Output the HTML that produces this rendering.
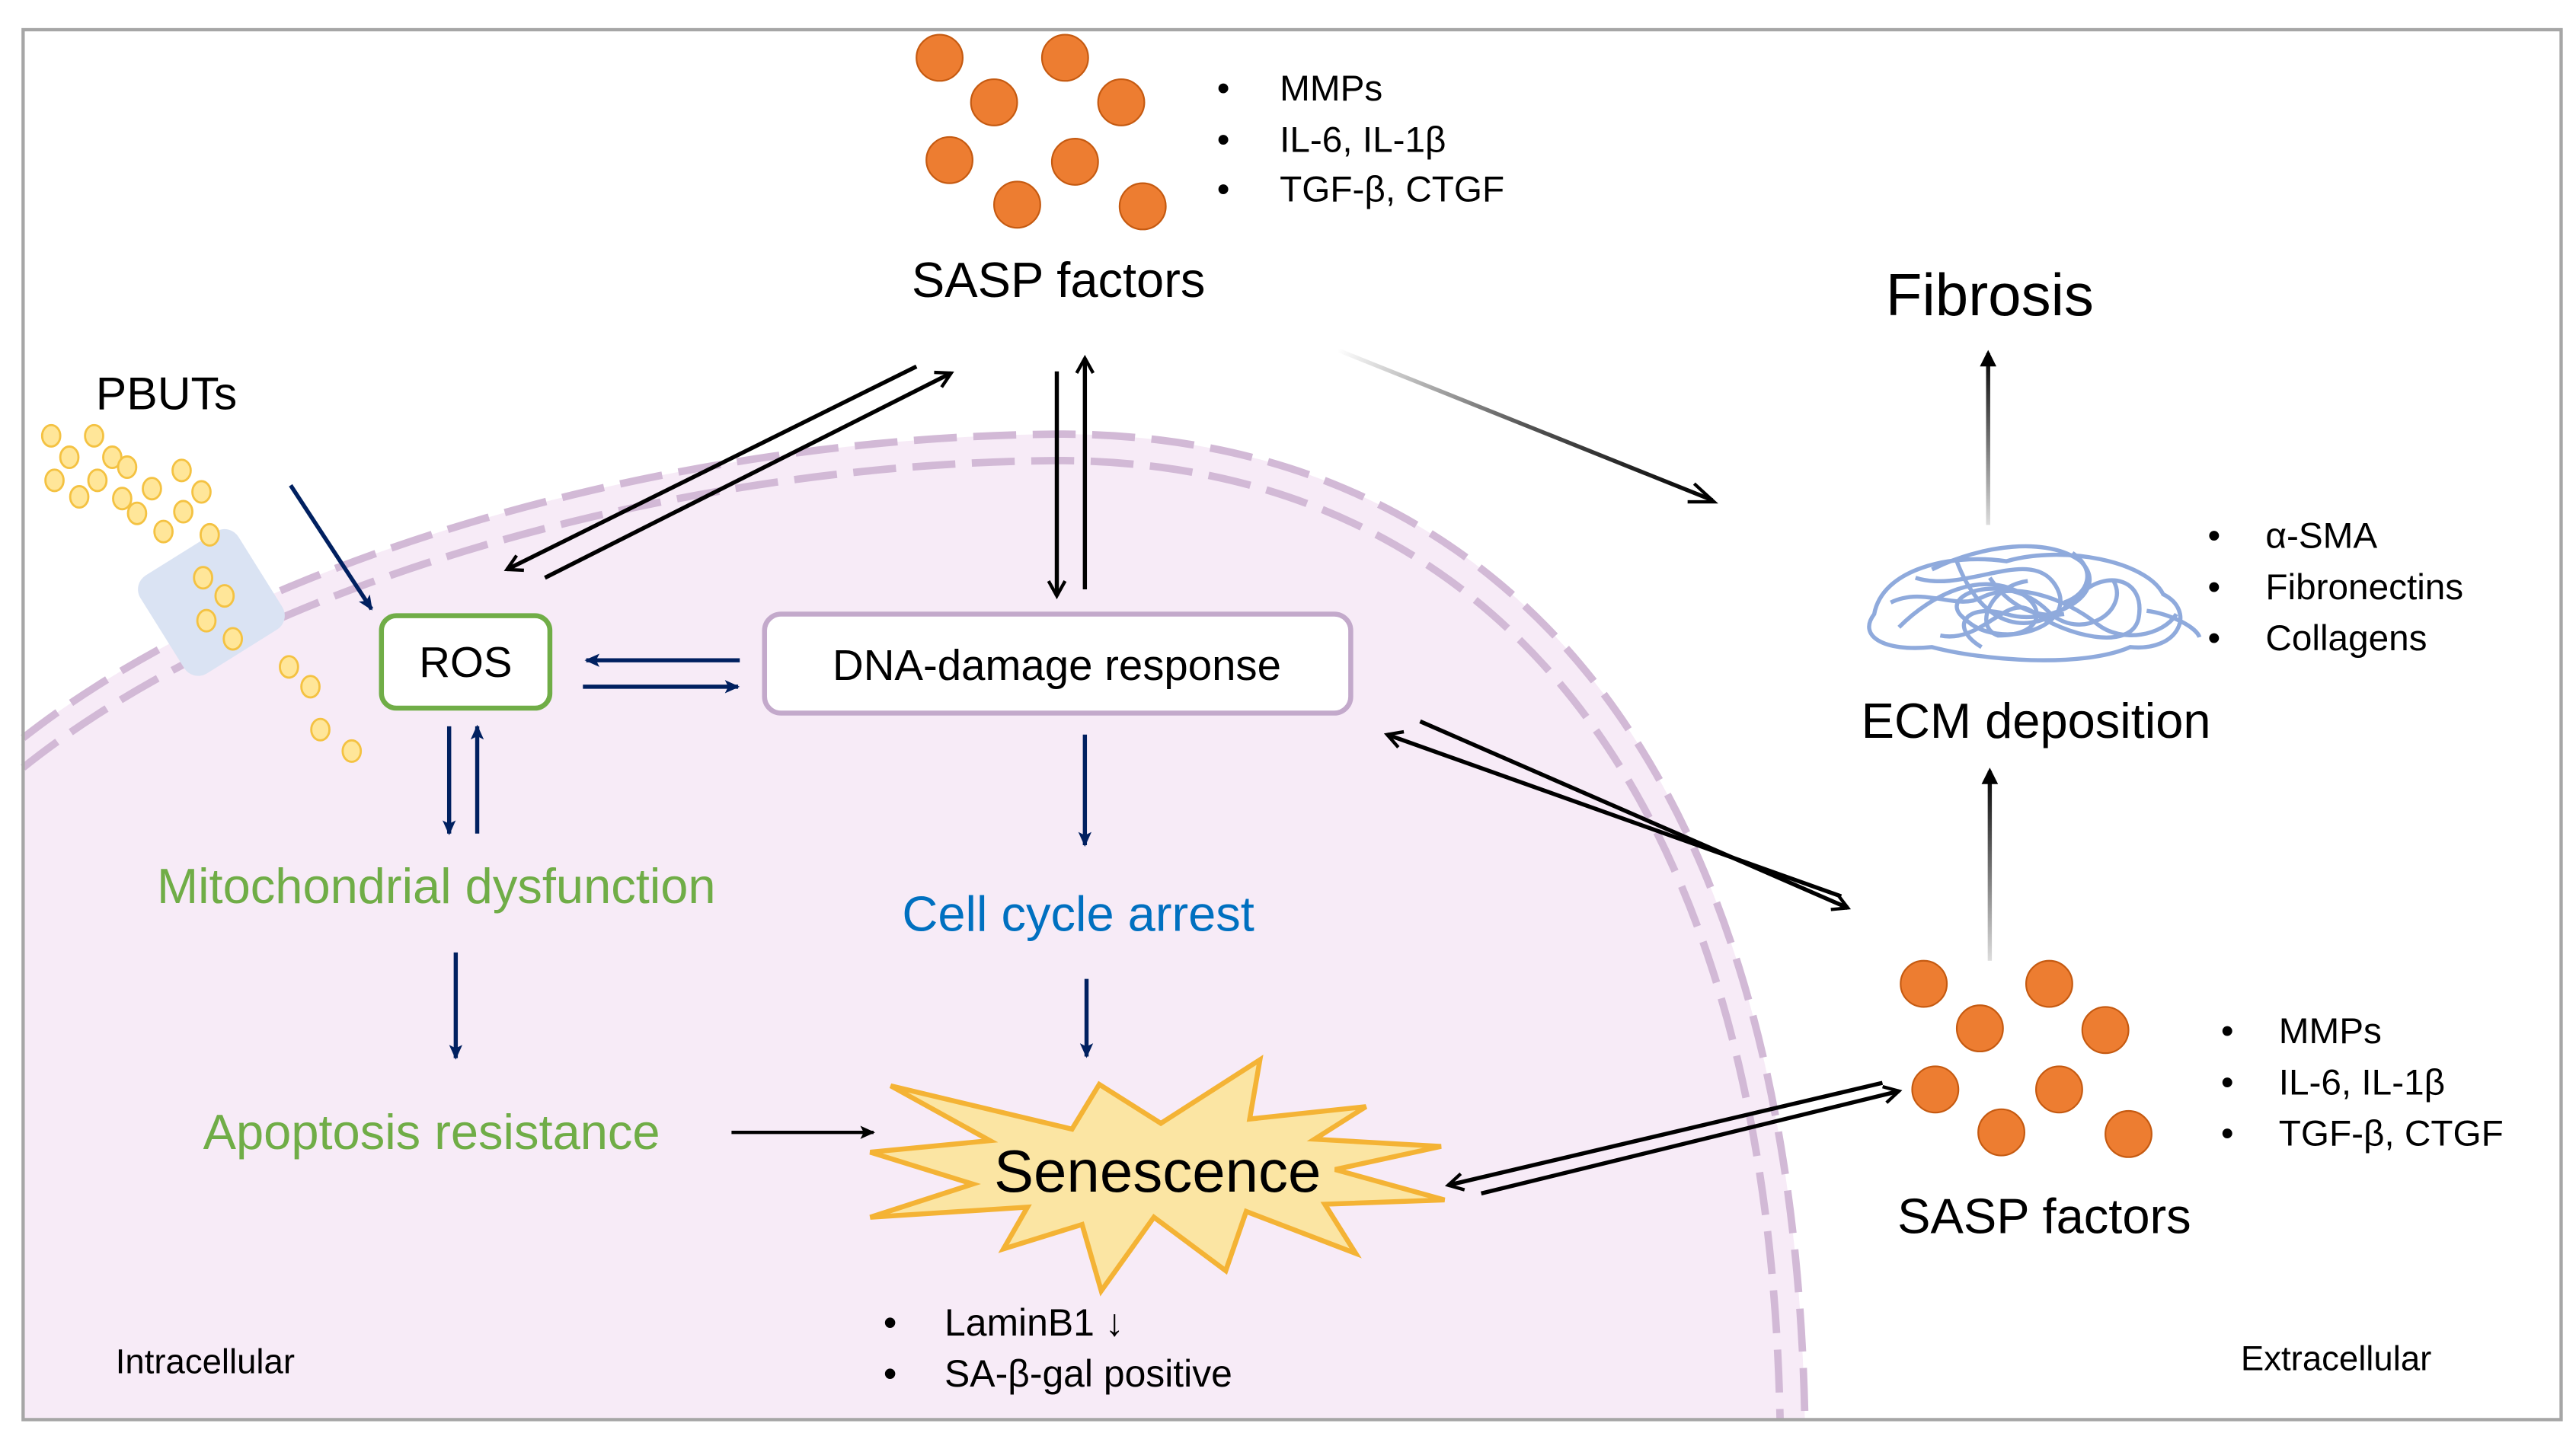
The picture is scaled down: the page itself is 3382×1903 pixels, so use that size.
<!DOCTYPE html>
<html><head><meta charset="utf-8"><style>
html,body{margin:0;padding:0;background:#fff;}
svg{display:block;}
text{font-family:"Liberation Sans",sans-serif;}
</style></head><body>
<svg width="3382" height="1903" viewBox="0 0 1560 877.8" preserveAspectRatio="none" xmlns="http://www.w3.org/2000/svg">
<defs>
<marker id="nv" markerWidth="10" markerHeight="10" refX="8" refY="5" orient="auto" markerUnits="userSpaceOnUse"><path d="M0,1 L9,5 L0,9 L2,5 Z" fill="#002060"/></marker>
<marker id="bk" markerWidth="12" markerHeight="12" refX="10" refY="6" orient="auto" markerUnits="userSpaceOnUse"><path d="M1,1 L10,6 L1,11" fill="none" stroke="#000" stroke-width="2"/></marker>
<marker id="bkf" markerWidth="10" markerHeight="10" refX="8" refY="5" orient="auto" markerUnits="userSpaceOnUse"><path d="M0,1 L9,5 L0,9 L2,5 Z" fill="#000"/></marker>
<linearGradient id="g1" x1="810" y1="212" x2="1037" y2="303" gradientUnits="userSpaceOnUse"><stop offset="0" stop-color="#fff"/><stop offset="0.5" stop-color="#555"/><stop offset="1" stop-color="#000"/></linearGradient>
<linearGradient id="g2" x1="0" y1="318" x2="0" y2="214" gradientUnits="userSpaceOnUse"><stop offset="0" stop-color="#ddd"/><stop offset="1" stop-color="#000"/></linearGradient>
<linearGradient id="g3" x1="0" y1="582" x2="0" y2="467" gradientUnits="userSpaceOnUse"><stop offset="0" stop-color="#ddd"/><stop offset="1" stop-color="#000"/></linearGradient>
</defs>
<rect x="0" y="0" width="1560" height="878" fill="#fff"/>
<path d="M14 447 C150 340,400 265,640 263 C900 262,1085 450,1093 860 L14 860 Z" fill="#f7ebf7"/>
<path d="M14 447 C150 340,400 265,640 263 C900 262,1085 450,1093 860" fill="none" stroke="#d2b9d6" stroke-width="4.5" stroke-dasharray="26,10"/>
<path d="M14 465 C150 356,400 281,640 279 C890 279,1070 462,1078 860" fill="none" stroke="#d2b9d6" stroke-width="4.5" stroke-dasharray="26,10"/>
<rect x="14" y="18" width="1537" height="842" fill="none" stroke="#a6a6a6" stroke-width="2"/>

<g fill="#ed7d31" stroke="#c55a11" stroke-width="1">
<circle cx="569" cy="35" r="14"/><circle cx="645" cy="35" r="14"/><circle cx="602" cy="62" r="14"/><circle cx="679" cy="62" r="14"/>
<circle cx="575" cy="97" r="14"/><circle cx="651" cy="98" r="14"/><circle cx="616" cy="124" r="14"/><circle cx="692" cy="125" r="14"/>
<circle cx="1165" cy="596" r="14"/><circle cx="1241" cy="596" r="14"/><circle cx="1199" cy="623" r="14"/><circle cx="1275" cy="624" r="14"/>
<circle cx="1172" cy="660" r="14"/><circle cx="1247" cy="660" r="14"/><circle cx="1212" cy="686" r="14"/><circle cx="1289" cy="687" r="14"/>
</g>
<g font-size="22" fill="#000">
<text x="737" y="61">•</text><text x="775" y="61">MMPs</text>
<text x="737" y="92">•</text><text x="775" y="92">IL-6, IL-1β</text>
<text x="737" y="122">•</text><text x="775" y="122">TGF-β, CTGF</text>
<text x="1337" y="332">•</text><text x="1372" y="332">α-SMA</text>
<text x="1337" y="363">•</text><text x="1372" y="363">Fibronectins</text>
<text x="1337" y="394">•</text><text x="1372" y="394">Collagens</text>
<text x="1345" y="632">•</text><text x="1380" y="632">MMPs</text>
<text x="1345" y="663">•</text><text x="1380" y="663">IL-6, IL-1β</text>
<text x="1345" y="694">•</text><text x="1380" y="694">TGF-β, CTGF</text>
<text x="70" y="832" font-size="21">Intracellular</text>
<text x="1357" y="830" font-size="21">Extracellular</text>
<text x="535" y="809" font-size="23">•</text><text x="572" y="809" font-size="23">LaminB1 ↓</text>
<text x="535" y="840" font-size="23">•</text><text x="572" y="840" font-size="23">SA-β-gal positive</text>
</g>
<text x="641" y="180" font-size="30" text-anchor="middle">SASP factors</text>
<text x="1205" y="191" font-size="36" text-anchor="middle">Fibrosis</text>
<text x="1233" y="447" font-size="30" text-anchor="middle">ECM deposition</text>
<text x="1238" y="747" font-size="30" text-anchor="middle">SASP factors</text>
<text x="58" y="248" font-size="28">PBUTs</text>

<g fill="none" stroke="#8faadc" stroke-width="2.5">
<path d="M1135 372 C1140 345,1180 335,1215 340 C1250 330,1300 340,1310 360 C1330 370,1320 395,1290 392 C1260 405,1200 400,1170 392 C1140 395,1125 385,1135 372 Z"/>
<path d="M1160 350 C1190 360,1230 330,1245 355 C1260 380,1210 395,1190 375 C1170 360,1215 345,1240 370 C1260 390,1290 370,1280 352"/>
<path d="M1185 340 C1200 380,1230 390,1260 360 C1275 345,1300 350,1295 375 C1290 395,1250 385,1230 370 C1215 360,1200 390,1175 385"/>
<path d="M1150 380 C1170 360,1200 345,1225 360 C1240 370,1235 385,1210 385 C1195 380,1205 355,1228 352 M1255 335 C1270 345,1265 360,1250 365"/>
<path d="M1300 370 C1315 372,1330 380,1332 386 M1205 350 C1215 365,1230 375,1250 372"/>
<path d="M1170 345 C1200 330,1240 325,1260 340 C1280 360,1240 380,1215 372 C1190 365,1180 380,1200 392"/>
<path d="M1145 365 C1165 355,1185 370,1200 362 C1220 352,1250 362,1270 378 C1285 390,1310 385,1318 372"/>
</g>

<rect x="93" y="330" width="70" height="70" rx="10" fill="#dae3f3" transform="rotate(-32 128 365)"/>
<g fill="#ffe699" stroke="#f4c242" stroke-width="1.3">
<ellipse cx="31" cy="264" rx="5.5" ry="6.5"/><ellipse cx="57" cy="264" rx="5.5" ry="6.5"/>
<ellipse cx="42" cy="277" rx="5.5" ry="6.5"/><ellipse cx="68" cy="277" rx="5.5" ry="6.5"/>
<ellipse cx="33" cy="291" rx="5.5" ry="6.5"/><ellipse cx="59" cy="291" rx="5.5" ry="6.5"/>
<ellipse cx="77" cy="283" rx="5.5" ry="6.5"/><ellipse cx="110" cy="285" rx="5.5" ry="6.5"/>
<ellipse cx="48" cy="301" rx="5.5" ry="6.5"/><ellipse cx="74" cy="302" rx="5.5" ry="6.5"/>
<ellipse cx="92" cy="296" rx="5.5" ry="6.5"/><ellipse cx="122" cy="298" rx="5.5" ry="6.5"/>
<ellipse cx="83" cy="311" rx="5.5" ry="6.5"/><ellipse cx="111" cy="310" rx="5.5" ry="6.5"/>
<ellipse cx="99" cy="322" rx="5.5" ry="6.5"/><ellipse cx="127" cy="324" rx="5.5" ry="6.5"/>
<ellipse cx="123" cy="350" rx="5.5" ry="6.5"/><ellipse cx="136" cy="361" rx="5.5" ry="6.5"/>
<ellipse cx="125" cy="376" rx="5.5" ry="6.5"/><ellipse cx="141" cy="387" rx="5.5" ry="6.5"/>
<ellipse cx="175" cy="404" rx="5.5" ry="6.5"/><ellipse cx="188" cy="416" rx="5.5" ry="6.5"/>
<ellipse cx="194" cy="442" rx="5.5" ry="6.5"/><ellipse cx="213" cy="455" rx="5.5" ry="6.5"/>
</g>

<rect x="231" y="373" width="102" height="56" rx="9" fill="#fff" stroke="#70ad47" stroke-width="3"/>
<text x="282" y="410" font-size="26" text-anchor="middle">ROS</text>
<rect x="463" y="372" width="355" height="60" rx="10" fill="#fff" stroke="#c3a9cb" stroke-width="3"/>
<text x="640" y="412" font-size="26" text-anchor="middle">DNA-damage response</text>

<text x="95" y="547" font-size="30" fill="#70ad47">Mitochondrial dysfunction</text>
<text x="123" y="696" font-size="30" fill="#70ad47">Apoptosis resistance</text>
<text x="653" y="564" font-size="30" fill="#0070c0" text-anchor="middle">Cell cycle arrest</text>

<polygon points="539.4,657.8 649.2,684 665.7,656.9 703,680.5 763,642 756.8,677.9 827.2,670.4 796.1,690.1 872.7,694.5 808.5,708.5 874.8,726.9 802.3,729.5 821,759.3 754.7,733.9 742.3,769.8 698.8,737.4 666.9,782 655.3,741.8 607.7,756.6 622.2,731.3 527,737.4 589.1,717.3 527,698 599.5,691" fill="#fbe5a3" stroke="#f4b335" stroke-width="3" stroke-linejoin="miter"/>
<text x="701" y="722" font-size="36" text-anchor="middle">Senescence</text>

<g stroke="#002060" stroke-width="2.5" fill="none">
<line x1="176" y1="294" x2="225" y2="369" marker-end="url(#nv)"/>
<line x1="448" y1="400" x2="355" y2="400" marker-end="url(#nv)"/>
<line x1="353" y1="416" x2="447" y2="416" marker-end="url(#nv)"/>
<line x1="272" y1="440" x2="272" y2="505" marker-end="url(#nv)"/>
<line x1="289" y1="505" x2="289" y2="440" marker-end="url(#nv)"/>
<line x1="276" y1="577" x2="276" y2="641" marker-end="url(#nv)"/>
<line x1="657" y1="445" x2="657" y2="512" marker-end="url(#nv)"/>
<line x1="658" y1="593" x2="658" y2="640" marker-end="url(#nv)"/>
</g>
<g stroke="#000" stroke-width="2.5" fill="none">
<line x1="555" y1="222" x2="307" y2="345" marker-end="url(#bk)"/>
<line x1="330" y1="350" x2="576" y2="226" marker-end="url(#bk)"/>
<line x1="640" y1="225" x2="640" y2="361" marker-end="url(#bk)"/>
<line x1="657" y1="357" x2="657" y2="217" marker-end="url(#bk)"/>
<line x1="1115" y1="543" x2="840" y2="445" marker-end="url(#bk)"/>
<line x1="860" y1="437" x2="1119" y2="550" marker-end="url(#bk)"/>
<line x1="1140" y1="656" x2="877" y2="718" marker-end="url(#bk)"/>
<line x1="897" y1="723" x2="1150" y2="661" marker-end="url(#bk)"/>
<line x1="443" y1="686" x2="529" y2="686" stroke-width="2" marker-end="url(#bkf)"/>
</g>
<line x1="810" y1="212" x2="1037" y2="303" stroke="url(#g1)" stroke-width="2.5"/>
<path d="M1026,293 L1038,304 L1022,304" fill="none" stroke="#000" stroke-width="2"/>
<line x1="1204" y1="318" x2="1204" y2="214" stroke="url(#g2)" stroke-width="2.5"/>
<path d="M1199,222 L1204,212 L1209,222 Z" fill="#000"/>
<line x1="1205" y1="582" x2="1205" y2="467" stroke="url(#g3)" stroke-width="2.5"/>
<path d="M1200,475 L1205,465 L1210,475 Z" fill="#000"/>
</svg>
</body></html>
